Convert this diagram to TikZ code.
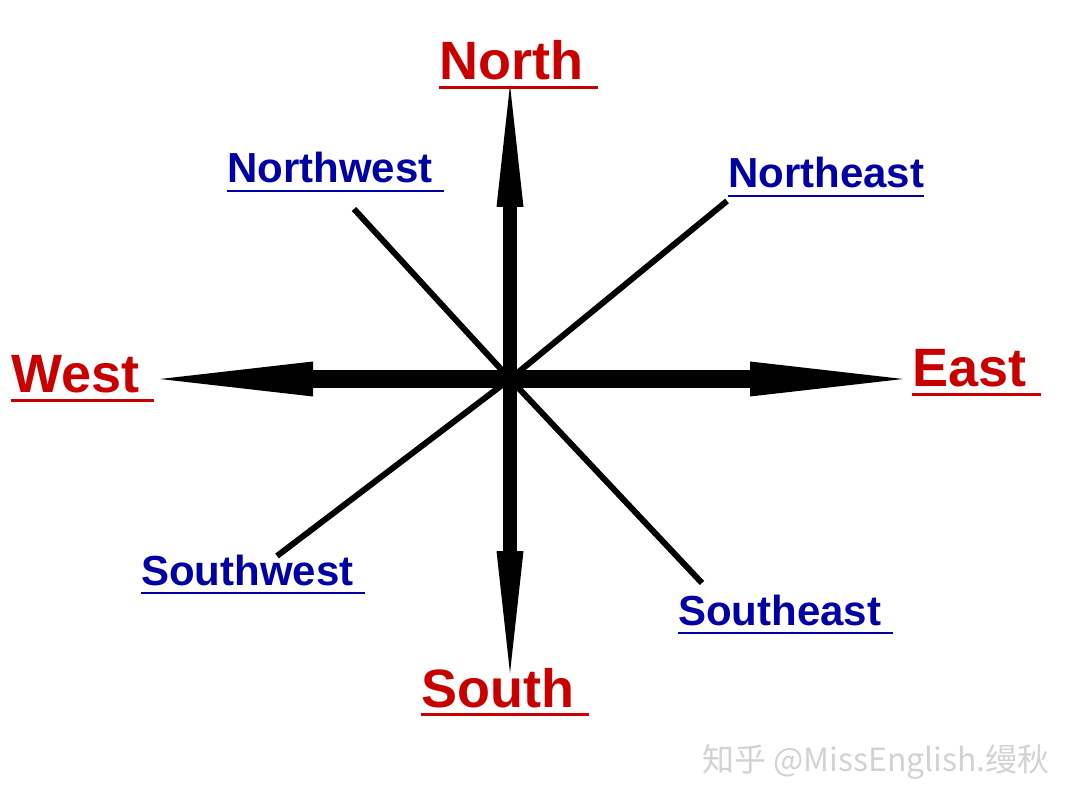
\documentclass[tikz,border=0pt]{standalone}
\usepackage{fontspec}
\setmainfont{Liberation Sans}
\newfontfamily\cjkfont{Noto Sans CJK SC}
\usetikzlibrary{arrows.meta,positioning}

\definecolor{dirred}{RGB}{200,0,0}
\definecolor{dirblue}{RGB}{0,0,165}
\definecolor{markgray}{RGB}{210,210,210}

% trailing space kept under the underline
\newcommand{\trailsp}{\kern0.278em}

\tikzset{
	mainlbl/.style={anchor=base west, inner sep=0pt, text depth=7pt, text=dirred,
		font=\fontsize{54}{60}\selectfont\bfseries,
		append after command={(\tikzlastnode.south west) edge[draw=dirred, line width=3pt] (\tikzlastnode.south east)}},
	sublbl/.style={anchor=base west, inner sep=0pt, text depth=8pt, text=dirblue,
		font=\fontsize{42}{48}\selectfont\bfseries,
		append after command={(\tikzlastnode.south west) edge[draw=dirblue, line width=2.5pt] (\tikzlastnode.south east)}},
	vshaft/.style={line width=14pt, -{Triangle[length=122pt,width=27pt,line width=0pt]}},
	hshaft/.style={line width=18pt, -{Triangle[length=153pt,width=35pt,line width=0pt]}},
	diag/.style={line width=6pt}
}

\begin{document}
\begin{tikzpicture}[x=1pt,y=-1pt]
	\useasboundingbox (0,0) rectangle (1080,810);

	\coordinate (c) at (510,379);
	\coordinate (ntip) at (510,85);
	\coordinate (stip) at (510,673);
	\coordinate (wtip) at (160,379);
	\coordinate (etip) at (903,379);
	\coordinate (nwend) at (354,209);
	\coordinate (neend) at (727,201);
	\coordinate (swend) at (277,556);
	\coordinate (seend) at (702,583);

	% diagonal lines
	\draw[diag] (c) -- (nwend);
	\draw[diag] (c) -- (neend);
	\draw[diag] (c) -- (swend);
	\draw[diag] (c) -- (seend);

	% main arrows
	\draw[vshaft] (c) -- (ntip);
	\draw[vshaft] (c) -- (stip);
	\draw[hshaft] (c) -- (wtip);
	\draw[hshaft] (c) -- (etip);

	% labels
	\node[mainlbl] (north) at (439,80) {North\trailsp};
	\node[mainlbl] (south) at (421,707) {South\trailsp};
	\node[mainlbl] (west) at (11,393) {West\trailsp};
	\node[mainlbl] (east) at (912,387) {East\trailsp};
	\node[sublbl] (northwest) at (227,183) {Northwest\trailsp};
	\node[sublbl] (northeast) at (728,188) {Northeast};
	\node[sublbl] (southwest) at (141,585) {Southwest\trailsp};
	\node[sublbl] (southeast) at (678,625) {Southeast\trailsp};

	\node[anchor=east, inner sep=0pt, text=markgray, font=\cjkfont\fontsize{32}{36}\selectfont] (mark) at (1050,762) {知乎 @MissEnglish.缦秋};
\end{tikzpicture}
\end{document}
